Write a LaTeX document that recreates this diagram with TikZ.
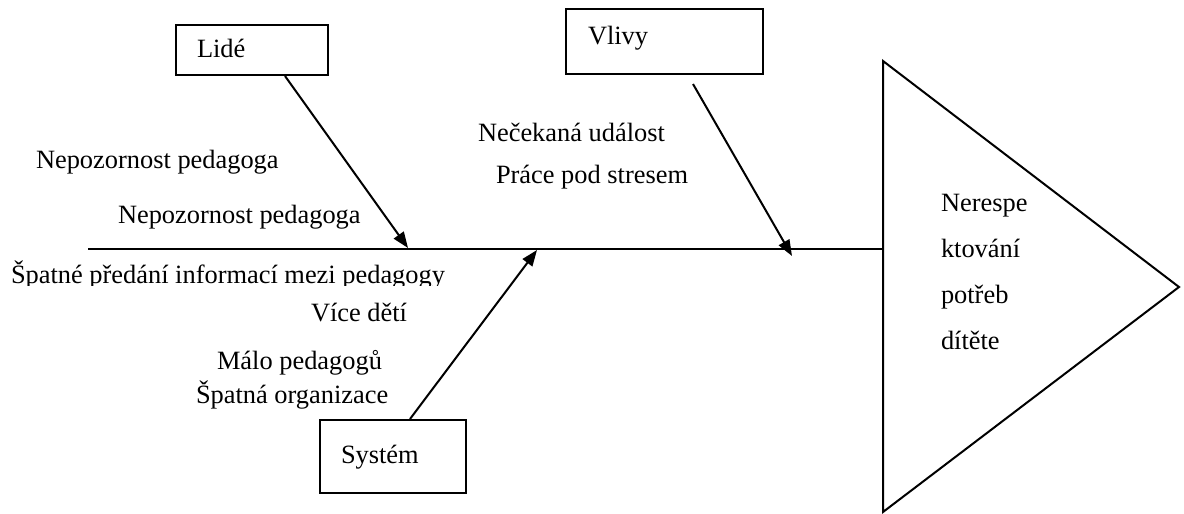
\documentclass[tikz,border=0pt]{standalone}
\usepackage{fontspec}
\setmainfont{Liberation Serif}
\usetikzlibrary{arrows.meta,calc}
\begin{document}
\begin{tikzpicture}[x=1pt,y=-1pt,
  line width=2pt,
  txt/.style={anchor=base west, inner sep=0pt, font=\fontsize{26.4}{31}\selectfont},
  box/.style={draw, line width=2pt, anchor=north west, inner sep=0pt},
  cause/.style={-{Triangle[length=16pt,width=12pt]}, line width=2pt},
]
\useasboundingbox (0,0) rectangle (1184,514);

% category boxes
\node[box, minimum width=152pt, minimum height=50pt] (lide) at (175,24) {};
\node[txt] (lideT) at (196,57) {Lidé};
\node[box, minimum width=197pt, minimum height=65pt] (vlivy) at (565,8) {};
\node[txt] (vlivyT) at (587,45) {Vlivy};
\node[box, minimum width=146pt, minimum height=73pt] (system) at (319,419) {};
\node[txt] (systemT) at (340,463) {Systém};

% spine and head
\coordinate (tail) at (88,249);
\coordinate (spineEnd) at (883,249);
\coordinate (headTop) at (883,61);
\coordinate (headTip) at (1179,287);
\coordinate (headBot) at (883,512);
\draw (headTop) -- (headTip) -- (headBot) -- cycle;
\draw (tail) -- (spineEnd);

% cause arrows
\coordinate (lideTip) at (408,248);
\coordinate (vlivyFoot) at (693,84);
\coordinate (vlivyTip) at (792,256);
\coordinate (systemTip) at (537,250);
\draw[cause] ($(lide.south west)+(110,0)$) -- (lideTip);
\draw[cause] (vlivyFoot) -- (vlivyTip);
\draw[cause] ($(system.north west)+(91,0)$) -- (systemTip);

% causes
\node[txt] (c1) at (35,168) {Nepozornost pedagoga};
\node[txt] (c2) at (117,223) {Nepozornost pedagoga};
\begin{scope}
  \clip (0,255) rectangle (500,285);
  \node[txt] (c3) at (10,283) {Špatné předání informací mezi pedagogy};
\end{scope}
\node[txt] (c4) at (310,321) {Více dětí};
\node[txt] (c5) at (216,369) {Málo pedagogů};
\node[txt] (c6) at (195,403) {Špatná organizace};
\node[txt] (c7) at (477,141) {Nečekaná událost};
\node[txt] (c8) at (495,183) {Práce pod stresem};

% effect
\node[txt] (e1) at (940,211) {Nerespe};
\node[txt] (e2) at (940,257) {ktování};
\node[txt] (e3) at (940,303) {potřeb};
\node[txt] (e4) at (940,349) {dítěte};
\end{tikzpicture}
\end{document}
